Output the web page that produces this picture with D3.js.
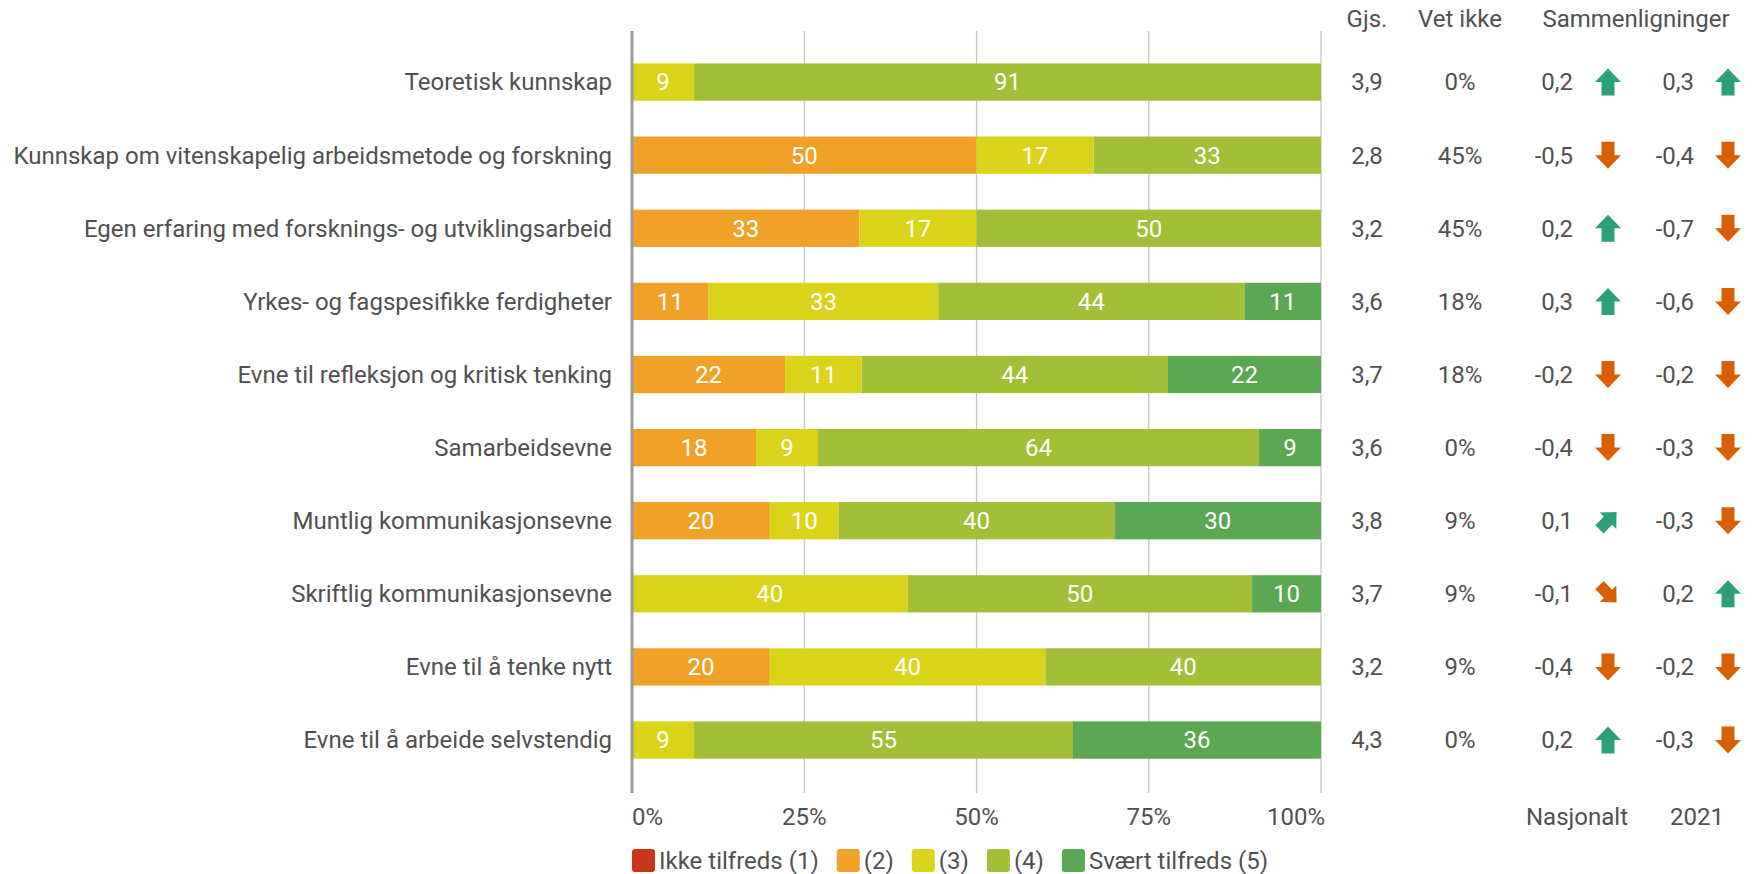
<!DOCTYPE html>
<html><head><meta charset="utf-8">
<script src="https://cdn.jsdelivr.net/npm/d3@7"></script>
<style>
html,body{margin:0;padding:0;background:#fff;}
svg{display:block;font-family:Roboto,"Noto Sans",sans-serif;}
</style></head>
<body>
<svg id="chart" width="1761" height="874"></svg>
<script>
const categories = [
  "Teoretisk kunnskap",
  "Kunnskap om vitenskapelig arbeidsmetode og forskning",
  "Egen erfaring med forsknings- og utviklingsarbeid",
  "Yrkes- og fagspesifikke ferdigheter",
  "Evne til refleksjon og kritisk tenking",
  "Samarbeidsevne",
  "Muntlig kommunikasjonsevne",
  "Skriftlig kommunikasjonsevne",
  "Evne til å tenke nytt",
  "Evne til å arbeide selvstendig"
];
const seriesNames = ["Ikke tilfreds (1)", "(2)", "(3)", "(4)", "Svært tilfreds (5)"];
const seriesColors = ["#C8361B", "#F0A128", "#D9D41A", "#A2BF37", "#5CA753"];
const s1 = [0, 0, 0, 0, 0, 0, 0, 0, 0, 0];
const s2 = [0, 50, 33, 11, 22, 18, 20, 0, 20, 0];
const s3 = [9, 17, 17, 33, 11, 9, 10, 40, 40, 9];
const s4 = [91, 33, 50, 44, 44, 64, 40, 50, 40, 55];
const s5 = [0, 0, 0, 11, 22, 9, 30, 10, 0, 36];
const gjs = ["3,9", "2,8", "3,2", "3,6", "3,7", "3,6", "3,8", "3,7", "3,2", "4,3"];
const vetIkke = ["0%", "45%", "45%", "18%", "18%", "0%", "9%", "9%", "9%", "0%"];
const nasjonalt = ["0,2", "-0,5", "0,2", "0,3", "-0,2", "-0,4", "0,1", "-0,1", "-0,4", "0,2"];
const nasjonaltDir = ["up", "down", "up", "up", "down", "down", "upright", "downright", "down", "up"];
const y2021 = ["0,3", "-0,4", "-0,7", "-0,6", "-0,2", "-0,3", "-0,3", "0,2", "-0,2", "-0,3"];
const y2021Dir = ["up", "down", "down", "down", "down", "down", "down", "up", "down", "down"];
const xTicks = [0, 25, 50, 75, 100];
const tickLabels = ["0%", "25%", "50%", "75%", "100%"];
const headers = ["Gjs.", "Vet ikke", "Sammenligninger"];
const footers = ["Nasjonalt", "2021"];

const series = [s1, s2, s3, s4, s5];
const svg = d3.select("#chart");
const textColor = "#505050";
const FS = 24;

const x = d3.scaleLinear().domain([0, 100]).range([632, 1321]);
const y = d3.scaleBand().domain(categories).range([45.5, 776.6]).paddingInner(0.49).paddingOuter(0.245);

// gridlines
const gTop = 31, gBot = 793;
svg.append("g").selectAll("line").data(xTicks.slice(1)).join("line")
  .attr("x1", d => x(d)).attr("x2", d => x(d))
  .attr("y1", gTop).attr("y2", gBot)
  .attr("stroke", "#c4c4c4").attr("stroke-width", 1.2);

// stacked bars
const rows = categories.map((c, i) => {
  const vals = series.map(s => s[i]);
  const tot = d3.sum(vals);
  let acc = 0;
  return vals.map((v, k) => {
    const seg = {cat: c, k, v, x0: acc / tot * 100, x1: (acc + v) / tot * 100};
    acc += v;
    return seg;
  });
});
const segs = rows.flat().filter(d => d.v > 0);
const bars = svg.append("g");
bars.selectAll("rect").data(segs).join("rect")
  .attr("x", d => x(d.x0)).attr("width", d => x(d.x1) - x(d.x0))
  .attr("y", d => y(d.cat)).attr("height", y.bandwidth())
  .attr("fill", d => seriesColors[d.k]);
bars.selectAll("text").data(segs).join("text")
  .attr("x", d => (x(d.x0) + x(d.x1)) / 2)
  .attr("y", d => y(d.cat) + y.bandwidth() / 2)
  .attr("dy", "0.35em").attr("text-anchor", "middle")
  .attr("fill", "#fff").attr("font-size", FS)
  .text(d => d.v);

// zero axis line
svg.append("line").attr("x1", x(0)).attr("x2", x(0)).attr("y1", gTop).attr("y2", gBot)
  .attr("stroke", "#9a9a9a").attr("stroke-width", 3);

// category labels
svg.append("g").selectAll("text").data(categories).join("text")
  .attr("x", 612).attr("y", d => y(d) + y.bandwidth() / 2).attr("dy", "0.35em")
  .attr("text-anchor", "end").attr("fill", textColor).attr("font-size", FS).text(d => d);

// x tick labels
svg.append("g").selectAll("text").data(xTicks).join("text")
  .attr("x", d => x(d)).attr("y", 817).attr("dy", "0.35em")
  .attr("text-anchor", (d, i) => i === 0 ? "start" : (i === xTicks.length - 1 ? "end" : "middle"))
  .attr("dx", (d, i) => i === 0 ? 0 : (i === xTicks.length - 1 ? 4 : 0))
  .attr("fill", textColor).attr("font-size", FS).text((d, i) => tickLabels[i]);

// headers
const headerX = [1367, 1460, 1636];
svg.append("g").selectAll("text").data(headers).join("text")
  .attr("x", (d, i) => headerX[i]).attr("y", 19).attr("dy", "0.35em").attr("text-anchor", "middle")
  .attr("fill", textColor).attr("font-size", FS).text(d => d);
const footerX = [1577, 1697];
svg.append("g").selectAll("text").data(footers).join("text")
  .attr("x", (d, i) => footerX[i]).attr("y", 817).attr("dy", "0.35em").attr("text-anchor", "middle")
  .attr("fill", textColor).attr("font-size", FS).text(d => d);

// table columns
const cy = c => y(c) + y.bandwidth() / 2;
function col(vals, xp, anchor) {
  svg.append("g").selectAll("text").data(vals).join("text")
    .attr("x", xp).attr("y", (d, i) => cy(categories[i])).attr("dy", "0.35em")
    .attr("text-anchor", anchor).attr("fill", textColor).attr("font-size", FS).text(d => d);
}
col(gjs, 1367, "middle");
col(vetIkke, 1460, "middle");
col(nasjonalt, 1573, "end");
col(y2021, 1694, "end");

// arrows
const arrowPath = "M0,-13.5 L13,0 L6.5,0 L6.5,13.5 L-6.5,13.5 L-6.5,0 L-13,0 Z";
const rot = {up: 0, down: 180, upright: 45, downright: 135};
const arrColor = d => (d === "up" || d === "upright") ? "#2BA07A" : "#D95F02";
function arrows(dirs, xp) {
  svg.append("g").selectAll("path").data(dirs).join("path")
    .attr("d", arrowPath)
    .attr("transform", (d, i) => `translate(${xp},${cy(categories[i])}) rotate(${rot[d]}) scale(${rot[d] % 90 ? 0.9 : 1})`)
    .attr("fill", d => arrColor(d));
}
arrows(nasjonaltDir, 1608);
arrows(y2021Dir, 1728);

// legend
const leg = svg.append("g");
let lx = 632;
seriesNames.forEach((n, i) => {
  leg.append("rect").attr("x", lx).attr("y", 849).attr("width", 23).attr("height", 23)
    .attr("rx", 3).attr("fill", seriesColors[i]);
  const t = leg.append("text").attr("x", lx + 27).attr("y", 860.5).attr("dy", "0.35em")
    .attr("fill", textColor).attr("font-size", FS).text(n);
  lx += 27 + t.node().getComputedTextLength() + 18;
});
</script>
</body></html>
